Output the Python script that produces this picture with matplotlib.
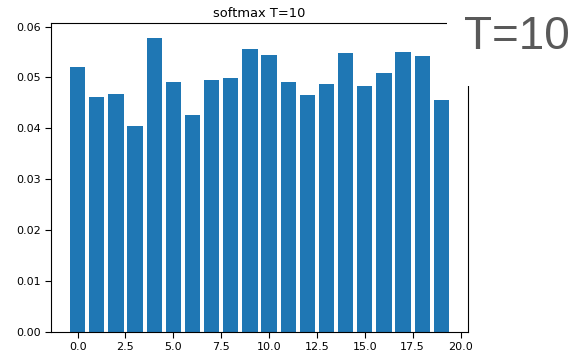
import numpy as np
import matplotlib
matplotlib.use("Agg")
from matplotlib import pyplot as plt
from matplotlib.patches import Rectangle

# softmax output at temperature 10, one bar per class
classes = list(range(20))
probs = [0.0520, 0.0461, 0.0468, 0.0404, 0.0578, 0.0492, 0.0427, 0.0494, 0.0499, 0.0556,
         0.0545, 0.0492, 0.0466, 0.0488, 0.0548, 0.0483, 0.0508, 0.0550, 0.0542, 0.0455]
title = "softmax T=10"
label = "T=10"

fig = plt.figure(figsize=(5.86, 3.58), dpi=100)
ax = fig.add_axes([51/586, 26/358, 417/586, 309/358])
ax.bar(classes, probs, color="#1f77b4")
ax.set_title(title, fontsize=9.4, pad=4)
ax.tick_params(labelsize=8, length=4)
ax.set_yticks([0.0, 0.01, 0.02, 0.03, 0.04, 0.05, 0.06])

# white patch over the top right corner with the big label on it
fig.patches.append(Rectangle((447/586, 1 - 86/358), 1, 1, transform=fig.transFigure,
                             facecolor="white", edgecolor="none", zorder=5))
fig.text(464/586, 1 - 37/358, label, fontsize=33, color="#595959",
         family="Liberation Sans", va="center", ha="left", zorder=6)

fig.savefig("out.png", dpi=100)
